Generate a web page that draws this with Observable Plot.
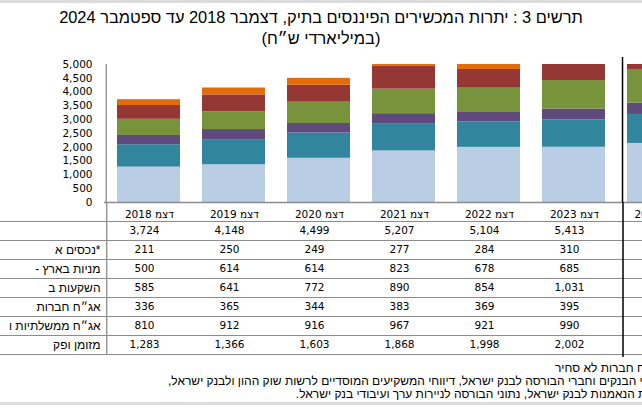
<!DOCTYPE html>
<html><head><meta charset="utf-8">
<script src="https://cdn.jsdelivr.net/npm/d3@7"></script>
<script src="https://cdn.jsdelivr.net/npm/@observablehq/plot@0.6"></script>
<style>
html,body{margin:0;padding:0;background:#fff;}
body{width:642px;height:409px;overflow:hidden;position:relative;font-family:"Liberation Sans",Arial,sans-serif;color:#000;}
svg{max-width:none !important;overflow:visible;}
#topline{position:absolute;left:0;top:0;width:642px;height:3px;background:#dcdcdc;}
#botline{position:absolute;left:0;top:402px;width:642px;height:3px;background:#dcdcdc;}
#title{position:absolute;left:0;width:642px;top:7px;text-align:center;font-size:16.4px;line-height:21px;direction:rtl;}
#chart{position:absolute;left:0;top:50px;}
#table{position:absolute;left:0;top:202px;}
#note{position:absolute;left:0;width:698px;top:362px;direction:rtl;text-align:right;font-size:12px;line-height:13px;white-space:nowrap;}
</style></head>
<body>
<div id="topline"></div>
<div id="title">תרשים 3 : יתרות המכשירים הפיננסים בתיק, דצמבר 2018 עד ספטמבר 2024<br>(במיליארדי ש״ח)</div>
<div id="chart"></div>
<div id="table"></div>
<div id="note">* כולל אג״ח חברות לא סחיר<br>מקור: דיווחי הבנקים וחברי הבורסה לבנק ישראל, דיווחי המשקיעים המוסדיים לרשות שוק ההון ולבנק ישראל,<br>דיווחי קרנות הנאמנות לבנק ישראל, נתוני הבורסה לניירות ערך ועיבודי בנק ישראל.</div>
<div id="botline"></div>
<script>
// ---- data ----
const periods = ["דצמ 2018","דצמ 2019","דצמ 2020","דצמ 2021","דצמ 2022","דצמ 2023","ספט 2024"];
// last value of each series (Sep 2024) is estimated from the partly visible bar
const cashDeposits   = [1283,1366,1603,1868,1998,2002,2140];
const govBonds       = [810, 912, 916, 967, 921, 990, 1050];
const corpBonds      = [336, 365, 344, 383, 369, 395, 410];
const abroad         = [585, 641, 772, 890, 854, 1031,1220];
const domesticStocks = [500, 614, 614, 823, 678, 685, 720];
const otherAssets    = [211, 250, 249, 277, 284, 310, 330];
const totals         = [3724,4148,4499,5207,5104,5413];
const tablePeriods = 6; // table columns visible in the picture
const seriesNames = ["מזומן ופקדונות","אג״ח ממשלתיות ומק״מ","אג״ח חברות סחיר","השקעות בחו״ל","מניות בארץ - סחירות","*נכסים אחרים"];
const rowLabels   = ["מזומן ופק","אג״ח ממשלתיות ו","אג״ח חברות","השקעות ב","מניות בארץ -","*נכסים א"];
const seriesColors = ["#b9cde5","#31859c","#604a7b","#77933c","#953735","#e46c0a"];
const yTicks = [0,500,1000,1500,2000,2500,3000,3500,4000,4500,5000];

// ---- build tables ----
const seriesValues = [cashDeposits, govBonds, corpBonds, abroad, domesticStocks, otherAssets];
const long = [];
seriesValues.forEach((vals, si) => vals.forEach((v, i) => long.push({period: periods[i], series: seriesNames[si], value: v})));
const rowKeys = ["total", ...seriesNames.slice().reverse()];
const labelOf = new Map(seriesNames.map((s, i) => [s, rowLabels[i]]));
const cells = [];
periods.slice(0, tablePeriods).forEach((p, i) => {
  cells.push({period: p, row: "total", value: totals[i]});
  seriesValues.forEach((vals, si) => cells.push({period: p, row: seriesNames[si], value: vals[i]}));
});
const rtl = s => "\u202B" + s + "\u202C";
const fmt = d3.format(",");
const pIn = 0.264, pOut = 0.132, xRange = [104, 703];
const xOpts = {domain: periods, range: xRange, paddingInner: pIn, paddingOuter: pOut};
const step = (xRange[1] - xRange[0]) / (periods.length - pIn + 2 * pOut);
const toBandEdge = -(pOut * step + (1 - pIn) * step / 2);   // from first band centre to the frame's left edge
const toSeparator = -((1 - pIn) * step / 2) - 5;            // from last band centre to the separator
const font = {fontFamily: "DejaVu Sans", fontSize: "10.5px", color: "#000", background: "transparent"};
const lineColor = "#8c8c8c";

const chart = Plot.plot({
  width: 760, height: 153, marginTop: 14, marginBottom: 1, marginLeft: 104, marginRight: 57,
  style: font,
  x: {...xOpts, axis: null},
  y: {domain: [0, 5000], clamp: true, axis: null},
  color: {domain: seriesNames, range: seriesColors},
  marks: [
    Plot.barY(long, {x: "period", y: "value", fill: "series"}),
    Plot.axisY({ticks: yTicks, tickSize: 0, tickPadding: 12, tickFormat: fmt, label: null}),
    Plot.ruleX([periods[0]], {dx: toBandEdge, stroke: lineColor, strokeWidth: 1.3}),
    Plot.ruleY([0], {stroke: lineColor, strokeWidth: 1.5}),
    Plot.ruleX([periods[6]], {dx: toSeparator, stroke: "#000", strokeWidth: 1.5, insetTop: -7})
  ]
});
document.getElementById("chart").append(chart);

const table = Plot.plot({
  width: 760, height: 157, marginTop: 19, marginBottom: 5, marginLeft: 104, marginRight: 57,
  style: font,
  x: {...xOpts, axis: "top", tickSize: 0, tickPadding: 4, tickFormat: rtl, label: null},
  y: {type: "band", domain: rowKeys, padding: 0, axis: null},
  marks: [
    Plot.ruleY(rowKeys, {dy: 9.5, stroke: lineColor, strokeWidth: 1.2, insetLeft: -104}),
    Plot.ruleY([rowKeys[0]], {dy: -9.5, stroke: lineColor, strokeWidth: 1.2, insetLeft: -104}),
    Plot.axisY({tickSize: 0, tickPadding: 4, label: null, fontFamily: "Liberation Sans", fontSize: 12,
                tickFormat: k => k === "total" ? "" : rtl(labelOf.get(k))}),
    Plot.text(cells, {x: "period", y: "row", text: d => fmt(d.value), dx: -5}),
    Plot.ruleX([periods[0]], {dx: toBandEdge, stroke: lineColor, strokeWidth: 1.3, insetTop: -19}),
    Plot.ruleX([periods[6]], {dx: toSeparator, stroke: "#000", strokeWidth: 1.5, insetTop: -19, insetBottom: -3})
  ]
});
document.getElementById("table").append(table);
</script>
</body></html>
